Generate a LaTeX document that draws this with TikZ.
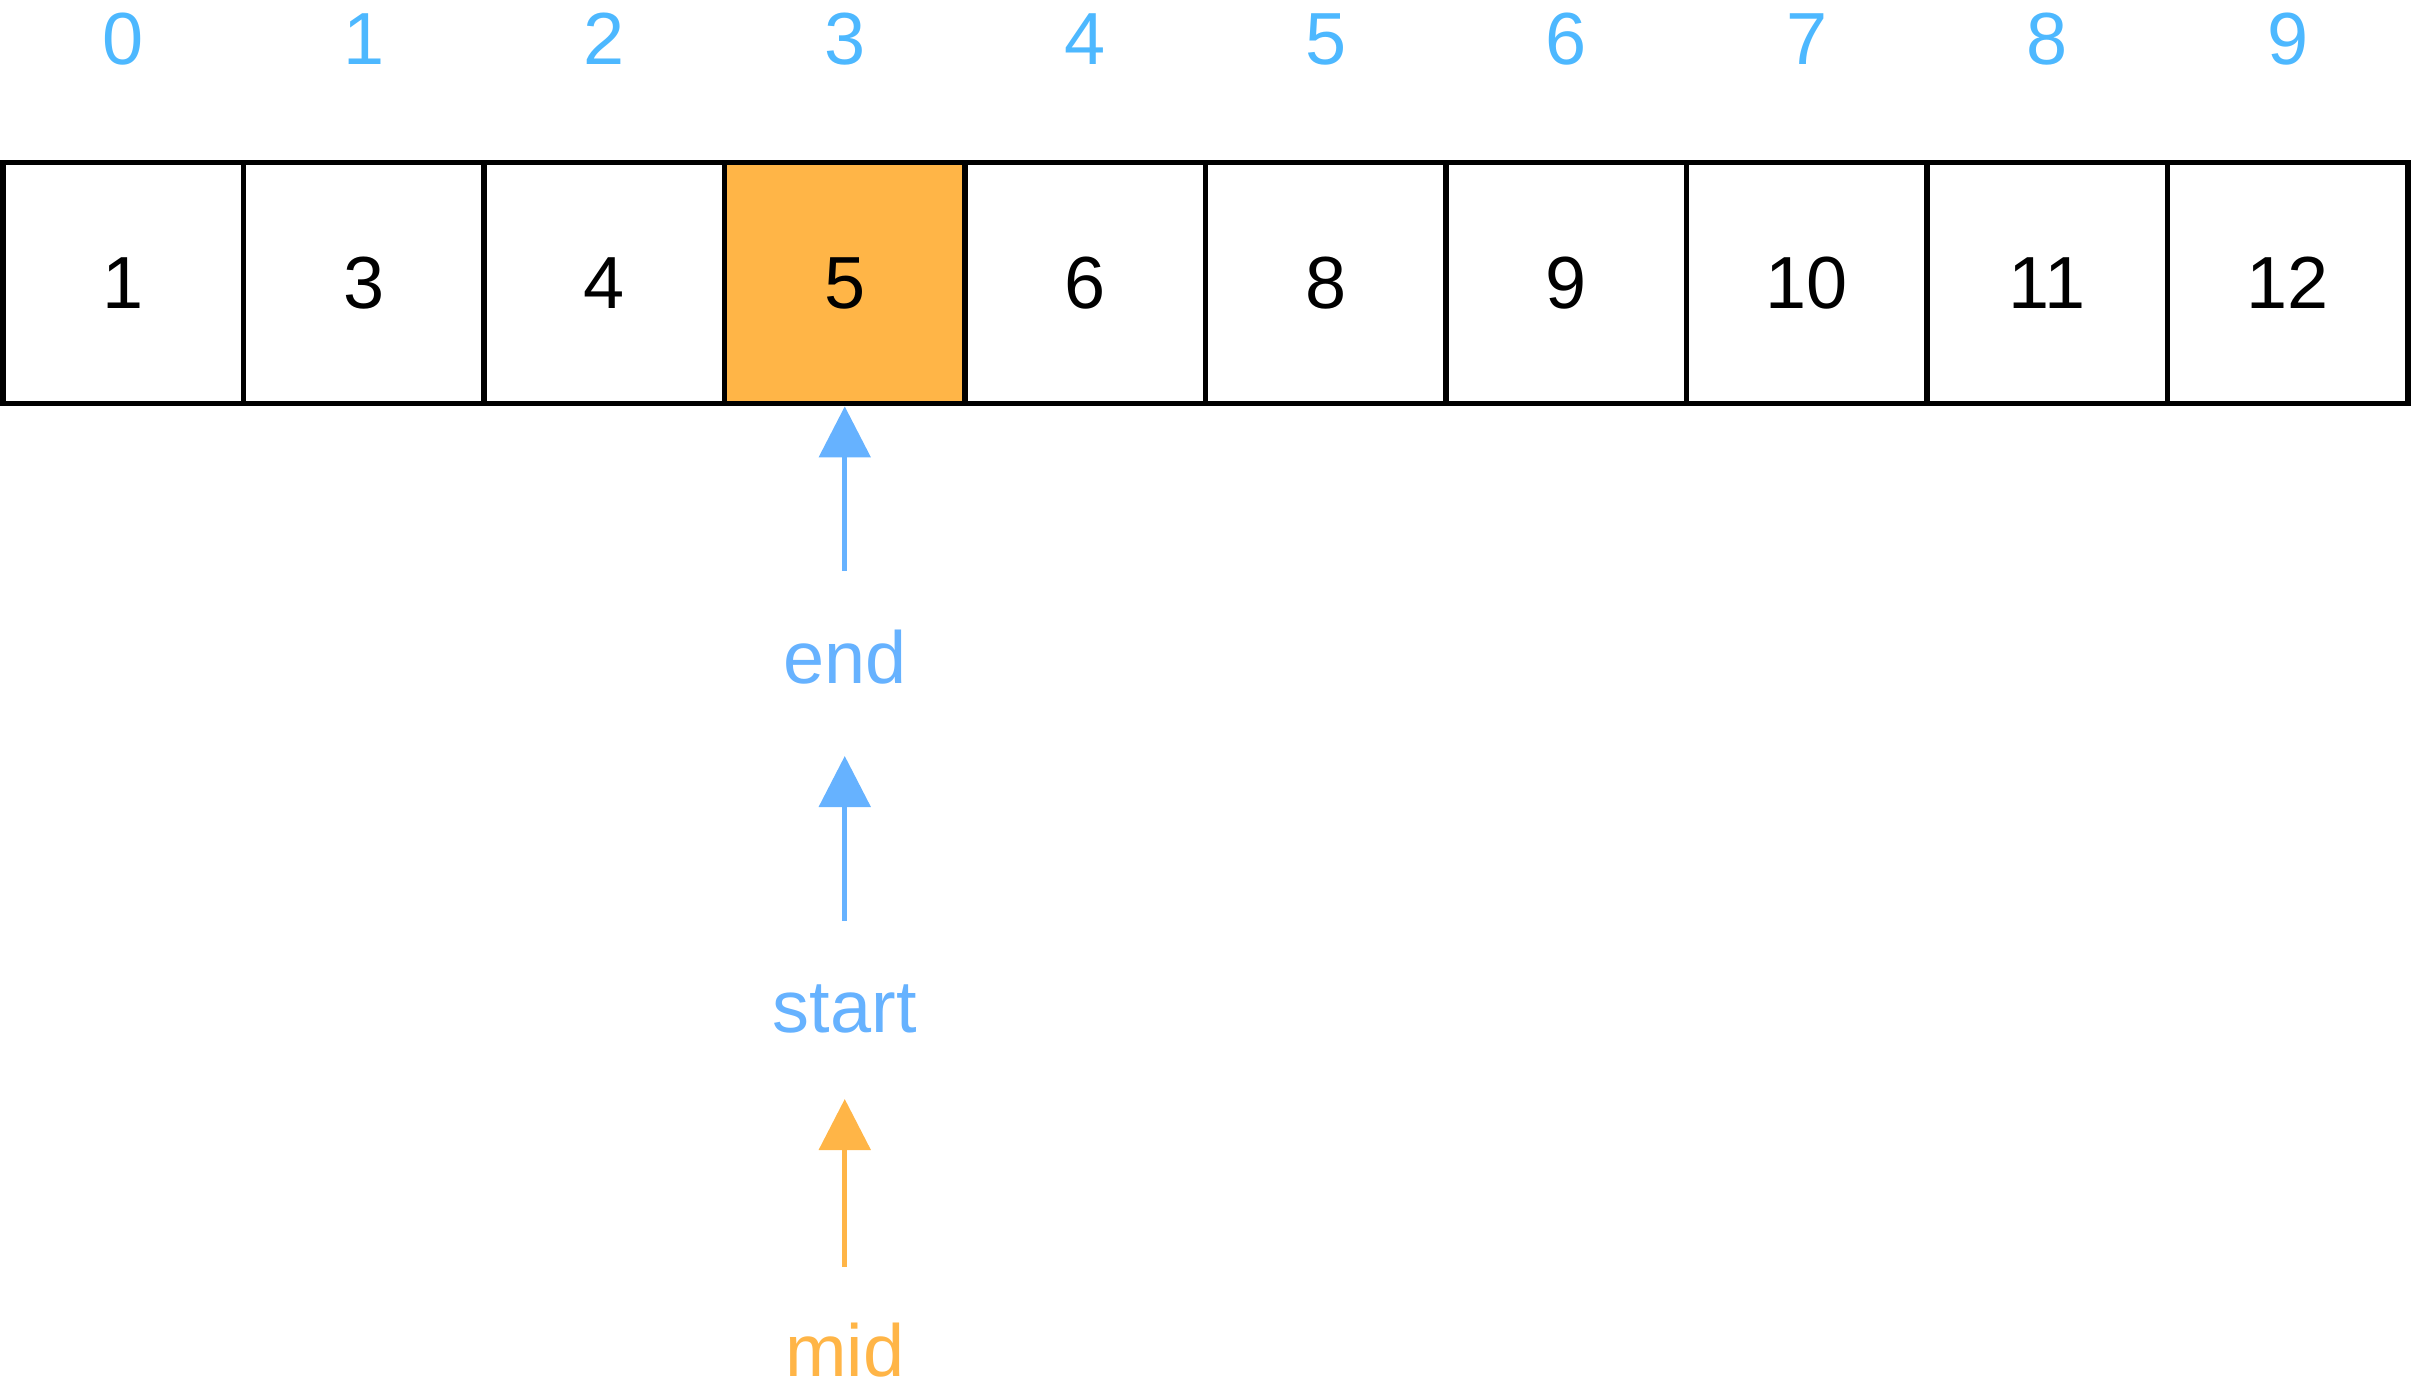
\documentclass[tikz,border=0pt]{standalone}
\usepackage{fontspec}
\setmainfont{Liberation Sans}
\usepackage{tikz}
\usetikzlibrary{arrows.meta, positioning}
\definecolor{cellfill}{RGB}{255,255,255}
\definecolor{hitfill}{RGB}{255,181,71}
\definecolor{indexblue}{RGB}{77,184,255}
\definecolor{ptrblue}{RGB}{102,178,255}
\tikzset{
    cell/.style={
        rectangle,
        draw=black,
        line width=1.6pt,
        fill=cellfill,
        inner sep=0pt,
        minimum width=2.405cm,
        minimum height=2.41cm,
        text centered,
        font=\fontsize{21pt}{25pt}\selectfont
    },
    hitcell/.style={
        cell,
        fill=hitfill
    },
    index/.style={
        text=indexblue,
        inner sep=0pt,
        font=\fontsize{21pt}{25pt}\selectfont
    },
    ptrlabel/.style={
        text=ptrblue,
        inner sep=0pt,
        anchor=base,
        font=\fontsize{21pt}{25pt}\selectfont
    },
    midlabel/.style={
        ptrlabel,
        text=hitfill
    },
    pointer/.style={
        draw=ptrblue,
        line width=1.5pt,
        -{Triangle[width=0.51cm,length=0.51cm]}
    },
    midpointer/.style={
        pointer,
        draw=hitfill,
        fill=hitfill
    }
}
\begin{document}
\begin{tikzpicture}[x=0.01cm, y=-0.01cm]
\useasboundingbox (0,0) rectangle (2412,1388);
% Array cells and indices
\foreach \v [count=\i from 0] in {1,3,4,5,6,8,9,10,11,12} {
    \ifnum\i=3
        \node[hitcell] (c\i) at ({123.25+240.5*\i},283) {\v};
    \else
        \node[cell] (c\i) at ({123.25+240.5*\i},283) {\v};
    \fi
    \node[index] (i\i) at ({123.25+240.5*\i},39) {\i};
}

% Pointers
\coordinate (t1) at (844.75,571);
\coordinate (t2) at (844.75,921);
\coordinate (h2) at (844.75,756);
\coordinate (t3) at (844.75,1267);
\coordinate (h3) at (844.75,1099);
\node[ptrlabel] (endlbl) at (844.75,683) {end};
\node[ptrlabel] (startlbl) at (844.75,1032) {start};
\node[midlabel] (midlbl) at (844.75,1376) {mid};

\draw[pointer, fill=ptrblue] (t1) -- (c3.south);
\draw[pointer, fill=ptrblue] (t2) -- (h2);
\draw[midpointer] (t3) -- (h3);
\end{tikzpicture}
\end{document}
